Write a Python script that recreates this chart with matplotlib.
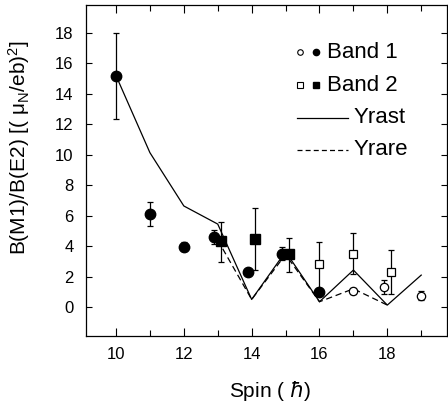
import matplotlib
matplotlib.use("Agg")
import matplotlib.pyplot as plt
from matplotlib.ticker import MultipleLocator

plt.rcParams['font.family'] = ['Liberation Sans', 'DejaVu Sans']
plt.rcParams['mathtext.default'] = 'regular'
plt.rcParams['mathtext.fontset'] = 'dejavusans'

# Band 1 (filled / open circles)
b1f_spin = [10.0, 11.0, 12.0, 12.9, 13.9, 14.9, 16.0]
b1f_val = [15.2, 6.1, 3.95, 4.62, 2.3, 3.5, 0.97]
b1f_elo = [2.85, 0.77, 0.3, 0.45, 0.0, 0.4, 0.0]
b1f_ehi = [2.8, 0.77, 0.3, 0.45, 0.0, 0.45, 0.0]

b1o_spin = [17.0, 17.9, 19.0]
b1o_val = [1.07, 1.33, 0.74]
b1o_err = [0.2, 0.45, 0.3]

# Band 2 (filled / open squares)
b2f_spin = [13.1, 14.1, 15.1]
b2f_val = [4.34, 4.45, 3.46]
b2f_elo = [1.36, 2.02, 1.14]
b2f_ehi = [1.26, 2.03, 1.09]

b2o_spin = [16.0, 17.0, 18.1]
b2o_val = [2.82, 3.48, 2.3]
b2o_elo = [1.6, 1.3, 1.47]
b2o_ehi = [1.48, 1.4, 1.45]

# Theory
yrast_spin = [10, 11, 12, 13, 14, 15, 16, 17, 18, 19]
yrast_val = [15.2, 10.14, 6.64, 5.45, 0.5, 3.64, 0.35, 2.43, 0.13, 2.1]
yrare_spin = [13, 14, 15, 16, 17, 18]
yrare_val = [4.4, 0.5, 3.45, 0.35, 1.2, 0.13]

fig = plt.figure(figsize=(4.48, 4.17), dpi=100)
ax = fig.add_axes([86/448, (417-336)/417, (447-86)/448, (336-5)/417])

ax.plot(yrast_spin, yrast_val, '-', color='black', lw=0.9, zorder=2)
ax.plot(yrare_spin, yrare_val, '--', color='black', lw=0.9, dashes=(5, 3), zorder=2)

ekw = dict(ecolor='black', elinewidth=0.9, capsize=2.5, capthick=0.9, linestyle='none', zorder=3)
ax.errorbar(b1f_spin, b1f_val, yerr=[b1f_elo, b1f_ehi], fmt='o', ms=7.5, mfc='black', mec='black', **ekw)
ax.errorbar(b1o_spin, b1o_val, yerr=b1o_err, fmt='o', ms=6, mfc='white', mec='black', mew=0.9, **ekw)
ax.errorbar(b2f_spin, b2f_val, yerr=[b2f_elo, b2f_ehi], fmt='s', ms=6.5, mfc='black', mec='black', **ekw)
ax.errorbar(b2o_spin, b2o_val, yerr=[b2o_elo, b2o_ehi], fmt='s', ms=6, mfc='white', mec='black', mew=0.9, **ekw)

ax.set_xlim(9.115, 19.76)
ax.set_ylim(-1.9, 19.84)
ax.xaxis.set_major_locator(MultipleLocator(2))
ax.xaxis.set_minor_locator(MultipleLocator(1))
ax.set_yticks(range(0, 19, 2))

ax.tick_params(axis='both', which='both', direction='in', top=True, right=True, width=0.8)
ax.tick_params(axis='x', which='major', length=6, labelsize=12, pad=8)
ax.tick_params(axis='x', which='minor', length=4)
ax.tick_params(axis='y', which='major', length=4, labelsize=12, pad=9)
for s in ax.spines.values():
    s.set_linewidth(0.9)

ax.set_xlabel(r'Spin ( $\mathit{\hbar}$)', fontsize=15)
ax.set_ylabel(r'B(M1)/B(E2) [( $\mu_N$/eb)$^2$]', fontsize=15)
ax.yaxis.set_label_coords(-0.15, 0.568)
ax.xaxis.set_label_coords(0.51, -0.13)

# Legend (drawn manually)
T = ax.transAxes
ax.plot([0.593], [0.858], 'o', ms=4, mfc='white', mec='black', mew=0.8, transform=T)
ax.plot([0.636], [0.858], 'o', ms=4.5, mfc='black', mec='black', transform=T)
ax.text(0.668, 0.858, 'Band 1', fontsize=16, va='center', ha='left', transform=T)
ax.plot([0.593], [0.758], 's', ms=3.8, mfc='white', mec='black', mew=0.8, transform=T)
ax.plot([0.636], [0.758], 's', ms=3.8, mfc='black', mec='black', transform=T)
ax.text(0.668, 0.758, 'Band 2', fontsize=16, va='center', ha='left', transform=T)
ax.plot([0.584, 0.726], [0.659, 0.659], '-', color='black', lw=0.9, transform=T)
ax.text(0.740, 0.659, 'Yrast', fontsize=16, va='center', ha='left', transform=T)
ax.plot([0.584, 0.726], [0.562, 0.562], '--', color='black', lw=0.9, dashes=(4, 2.5), transform=T)
ax.text(0.740, 0.562, 'Yrare', fontsize=16, va='center', ha='left', transform=T)

fig.savefig('out.png', dpi=100)
